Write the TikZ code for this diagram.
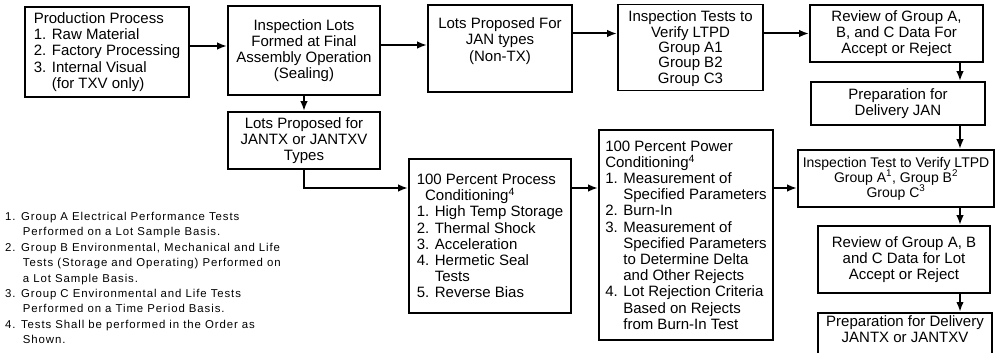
\documentclass[tikz,border=0pt]{standalone}
\usepackage{fontspec}
\setmainfont{Liberation Sans}
\newfontfamily\notesfont[LetterSpace=8]{Liberation Sans}
\usetikzlibrary{arrows.meta}

\begin{document}
\begin{tikzpicture}[
  x=1pt,y=-1pt,
  block/.style={draw,line width=1.7pt,align=center,inner sep=3pt,font=\fontsize{15}{16.2}\selectfont},
  list/.style={block,align=left},
  flow/.style={-{Latex[length=10pt,width=7.5pt]},line width=2pt}
]
  \clip[use as bounding box] (0,0) rectangle (995,353);

  \coordinate (jan-line) at (960,0);
  \coordinate (conditioning-line) at (0,188);

  \node[list,minimum width=164,minimum height=90] (production-process) at (107,52)
    {Production Process\\1. Raw Material\\2. Factory Processing\\3. Internal Visual\\\hphantom{3. }(for TXV only)};
  \node[block,minimum width=152,minimum height=89] (inspection-lots) at (304,50.5)
    {Inspection Lots\\Formed at Final\\Assembly Operation\\(Sealing)};
  \node[block,minimum width=144,minimum height=87,text depth=18pt] (lots-jan) at (500,48.5)
    {Lots Proposed For\\JAN types\\(Non-TX)};
  \node[block,minimum width=145,minimum height=86,font=\fontsize{15}{15.4}\selectfont,text depth=1pt] (verify-jan) at (690.5,47.5)
    {Inspection Tests to\\Verify LTPD\\Group A1\\Group B2\\Group C3};
  \node[block,minimum width=173,minimum height=57] (review-jan) at (896.5,33.5)
    {Review of Group A,\\B, and C Data For\\Accept or Reject};
  \node[block,minimum width=174,minimum height=43] (preparation-jan) at (898,103.5)
    {Preparation for\\Delivery JAN};

  \node[block,minimum width=152,minimum height=57] (lots-jantx) at (304,140.5)
    {Lots Proposed for\\JANTX or JANTXV\\Types};
  \node[list,minimum width=162,minimum height=154] (process-conditioning) at (490,236)
    {100 Percent Process\\\hphantom{1}Conditioning\textsuperscript{4}\\1. High Temp Storage\\2. Thermal Shock\\3. Acceleration\\4. Hermetic Seal\\\hphantom{4. }Tests\\5. Reverse Bias};
  \node[list,minimum width=174,minimum height=210] (power-conditioning) at (686,235)
    {100 Percent Power\\Conditioning\textsuperscript{4}\\1. Measurement of\\\hphantom{1. }Specified Parameters\\2. Burn-In\\3. Measurement of\\\hphantom{3. }Specified Parameters\\\hphantom{3. }to Determine Delta\\\hphantom{3. }and Other Rejects\\4. Lot Rejection Criteria\\\hphantom{4. }Based on Rejects\\\hphantom{4. }from Burn-In Test};
  \node[block,minimum width=196,minimum height=57,inner xsep=1pt,font=\fontsize{14}{15}\selectfont] (verify-jantx) at (896,178.5)
    {Inspection Test to Verify LTPD\\Group A\textsuperscript{1}, Group B\textsuperscript{2}\\Group C\textsuperscript{3}};
  \node[block,minimum width=172,minimum height=67] (review-jantx) at (904,259.5)
    {Review of Group A, B\\and C Data for Lot\\Accept or Reject};
  \node[block,minimum width=174,minimum height=48,anchor=north,text depth=22pt] (preparation-jantx) at (905,312)
    {Preparation for Delivery\\JANTX or JANTXV};

  \node[anchor=north west,align=left,inner sep=0pt,font=\notesfont\fontsize{11.4}{15.4}\selectfont] (notes) at (5,212)
    {1. Group A Electrical Performance Tests\\
     \hphantom{1. }\,Performed on a Lot Sample Basis.\\
     2. Group B Environmental, Mechanical and Life\\
     \hphantom{2. }\,Tests (Storage and Operating) Performed on\\
     \hphantom{2. }\,a Lot Sample Basis.\\
     3. Group C Environmental and Life Tests\\
     \hphantom{3. }\,Performed on a Time Period Basis.\\
     4. Tests Shall be performed in the Order as\\
     \hphantom{4. }\,Shown.};

  \path[flow]
    ([yshift=6pt]production-process.east) edge ([yshift=6pt]production-process.east -| inspection-lots.west)
    ([yshift=5.5pt]inspection-lots.east) edge ([yshift=5.5pt]inspection-lots.east -| lots-jan.west)
    (lots-jan.east |- review-jan.west) edge (verify-jan.west |- review-jan.west)
    (verify-jan.east |- review-jan.west) edge (review-jan.west)
    (review-jan.south -| jan-line) edge (preparation-jan.north -| jan-line)
    (preparation-jan.south -| jan-line) edge (verify-jantx.north -| jan-line)
    (verify-jantx.south -| jan-line) edge (review-jantx.north -| jan-line)
    (review-jantx.south -| jan-line) edge (preparation-jantx.north -| jan-line)
    (inspection-lots.south) edge (lots-jantx.north)
    (process-conditioning.east |- conditioning-line) edge (power-conditioning.west |- conditioning-line)
    (power-conditioning.east |- conditioning-line) edge (verify-jantx.west |- conditioning-line);
  \draw[flow] (lots-jantx.south) |- (process-conditioning.west |- conditioning-line);
\end{tikzpicture}
\end{document}
